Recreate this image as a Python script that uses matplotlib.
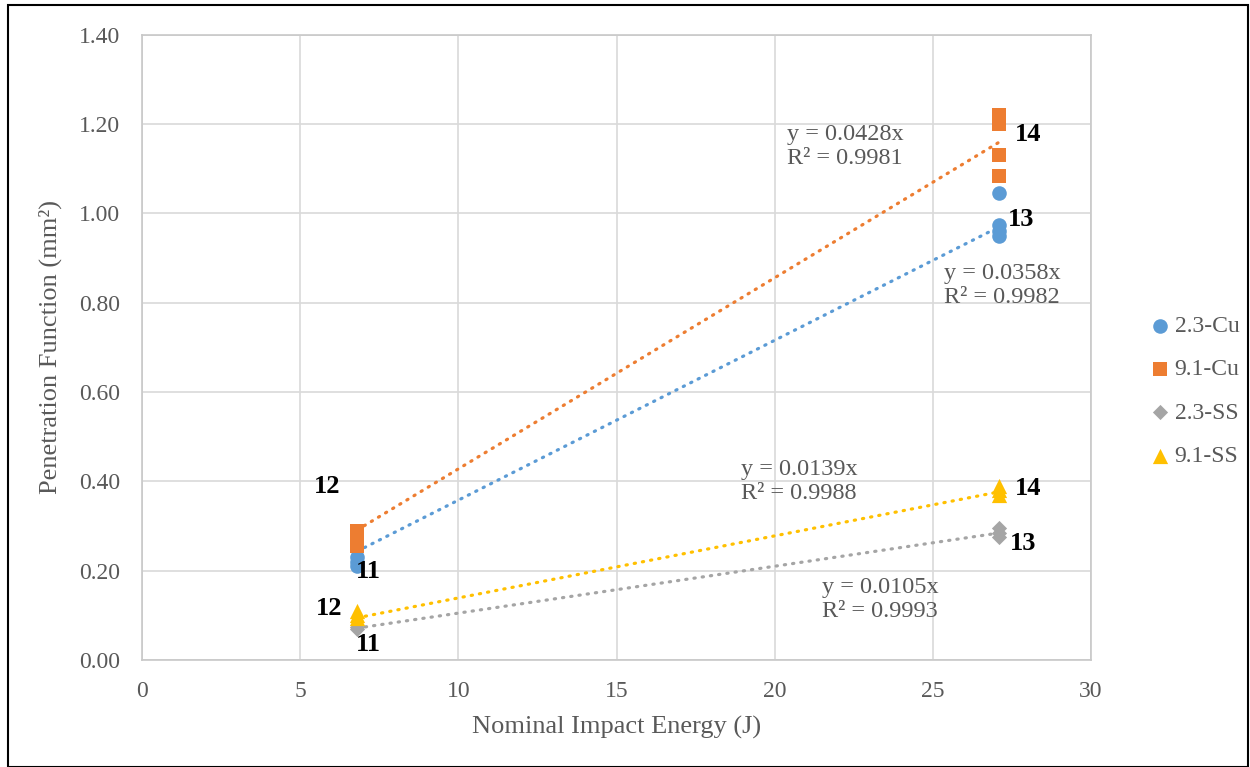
import matplotlib.pyplot as plt
import numpy as np
from matplotlib.patches import Rectangle

plt.rcParams['font.family'] = ['Liberation Serif', 'DejaVu Serif']

# measured points (energy in J, penetration function in mm^2)
cu23_x = [6.8, 6.8, 6.8, 27.1, 27.1, 27.1, 27.1]
cu23_y = [0.21, 0.22, 0.23, 1.045, 0.975, 0.96, 0.95]
cu91_x = [6.8, 6.8, 6.8, 27.1, 27.1, 27.1, 27.1]
cu91_y = [0.29, 0.27, 0.255, 1.22, 1.20, 1.13, 1.085]
ss23_x = [6.8, 6.8, 27.1, 27.1, 27.1]
ss23_y = [0.07, 0.075, 0.295, 0.285, 0.275]
ss91_x = [6.8, 6.8, 6.8, 27.1, 27.1, 27.1]
ss91_y = [0.11, 0.10, 0.095, 0.39, 0.38, 0.37]

names = ['2.3-Cu', '9.1-Cu', '2.3-SS', '9.1-SS']
slopes = [0.0358, 0.0428, 0.0105, 0.0139]
r2 = [0.9982, 0.9981, 0.9993, 0.9988]

colors = ['#5B9BD5', '#ED7D31', '#A5A5A5', '#FFC000']
markers = ['o', 's', 'D', '^']
msizes = [110, 110, 60, 120]

fig = plt.figure(figsize=(12.5, 7.67), dpi=100)
ax = fig.add_axes([0.1136, 0.1395, 0.7592, 0.815])

series = [(cu23_x, cu23_y), (cu91_x, cu91_y), (ss23_x, ss23_y), (ss91_x, ss91_y)]
for i, (xs, ys) in enumerate(series):
    ax.scatter(xs, ys, s=msizes[i], marker=markers[i], color=colors[i],
               label=names[i], zorder=3, linewidths=0)
    xl = np.array([min(xs), max(xs)])
    ax.plot(xl, slopes[i] * xl, color=colors[i], lw=2.3,
            linestyle=(0, (0.4, 2.2)), dash_capstyle='round', zorder=2)

# trendline equations
eq_pos = [(25.36, 0.89), (20.39, 1.20), (21.5, 0.187), (18.94, 0.451)]
for i, (ex, ey) in enumerate(eq_pos):
    ax.text(ex, ey, f'y = {slopes[i]}x\nR² = {r2[i]:.4f}', color='#595959',
            fontsize=17.5, va='top', ha='left', linespacing=1.2)

# run numbers
lbl = [(5.85, 0.388, '12'), (7.15, 0.199, '11'), (5.9, 0.116, '12'),
       (7.15, 0.034, '11'), (28.0, 1.176, '14'), (27.8, 0.986, '13'),
       (28.0, 0.383, '14'), (27.85, 0.26, '13')]
for lx, ly, t in lbl:
    ax.text(lx, ly, t, fontsize=19, fontweight='bold', color='black',
            ha='center', va='center')

ax.set_xlim(0, 30)
ax.set_ylim(0, 1.4)
ax.set_xticks(np.arange(0, 31, 5))
ax.set_yticks(np.arange(0, 1.41, 0.2))
ax.set_yticklabels([f'{v:.2f}' for v in np.arange(0, 1.41, 0.2)])
ax.grid(True, color='#d9d9d9', lw=1.2)
ax.set_axisbelow(True)
for s in ax.spines.values():
    s.set_color('#c8c8c8')
    s.set_linewidth(1.2)
ax.tick_params(axis='y', length=0, labelsize=17, labelcolor='#595959', pad=16)
ax.tick_params(axis='x', length=0, labelsize=17, labelcolor='#595959', pad=15)
ax.set_xlabel('Nominal Impact Energy (J)', fontsize=19, color='#595959', labelpad=10)
ax.set_ylabel('Penetration Function (mm²)', fontsize=19, color='#595959', labelpad=12)

leg = fig.legend(loc='center left', bbox_to_anchor=(0.9, 0.49), frameon=False,
                 fontsize=17, handletextpad=0.0, labelspacing=0.92,
                 handlelength=1.2, scatterpoints=1)
for t in leg.get_texts():
    t.set_color('#595959')

fig.patches.append(Rectangle((0.006, 0.0), 0.992, 0.993, transform=fig.transFigure,
                             fill=False, edgecolor='black', lw=1.5))

fig.savefig('out.png', dpi=100)
